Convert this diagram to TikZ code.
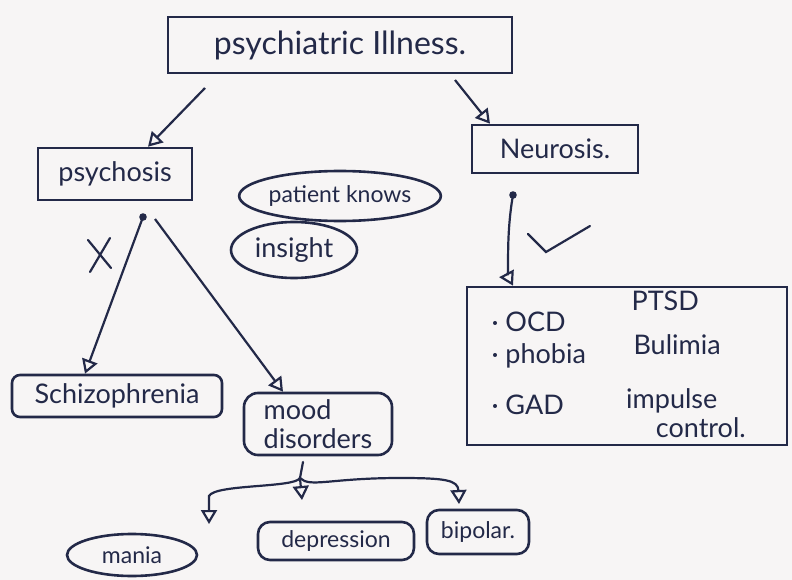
\documentclass[tikz,border=0pt]{standalone}
\usepackage{fontspec}
\setmainfont{Lato}
\usetikzlibrary{arrows.meta,shapes.geometric,calc}
\definecolor{ink}{HTML}{232948}
\definecolor{paper}{HTML}{F7F5F5}
\begin{document}
\begin{tikzpicture}[x=1pt,y=-1pt,
  every node/.style={text=ink},
  box/.style={draw=ink, line width=2.6pt, inner sep=4pt},
  rbox/.style={box, rounded corners=10pt},
  oval/.style={draw=ink, line width=2.6pt, ellipse, inner sep=1pt},
  conn/.style={draw=ink, line width=2.2pt, -{Triangle[open,length=14pt,width=16pt]}},
  plain/.style={draw=ink, line width=2.2pt, line cap=round},
  big/.style={font=\fontsize{32}{34}\selectfont},
  mid/.style={font=\fontsize{27}{29}\selectfont},
  small/.style={font=\fontsize{23}{26}\selectfont}]
\fill[paper] (0,0) rectangle (792,580);
\useasboundingbox (0,0) rectangle (792,580);

% nodes
\node[box, big, minimum width=344, minimum height=56] (title) at (340,45) {psychiatric Illness.};
\node[box, mid, minimum width=154, minimum height=52] (psychosis) at (115,174) {psychosis};
\node[box, mid, minimum width=166, minimum height=48] (neurosis) at (555,149) {Neurosis.};
\node[oval, small, minimum width=172, minimum height=50, inner sep=0pt] (patient) at (340,196) {patient knows};
\node[oval, mid, minimum width=126, minimum height=56, inner sep=0pt] (insight) at (294,250) {insight};
\node[rbox, mid, minimum width=210, minimum height=42, rounded corners=8pt] (schizo) at (117,396) {Schizophrenia};
\node[rbox, mid, minimum width=148, minimum height=62, align=left, rounded corners=14pt, inner sep=2pt] (mood) at (318,424) {mood\\disorders};
\node[box, minimum width=320, minimum height=158] (neurlist) at (627,366) {};
\node[mid, anchor=west] (ocd) at (488,322) {· OCD};
\node[mid, anchor=west] (phobia) at (488,356) {· phobia};
\node[mid, anchor=west] (gad) at (488,405) {· GAD};
\node[mid, anchor=west] (ptsd) at (628,301) {PTSD};
\node[mid, anchor=west] (bulimia) at (630,345) {Bulimia};
\node[mid, anchor=west, align=left, inner sep=0pt] (impulse) at (626,413) {impulse\\\hspace*{1.1em}control.};
\node[oval, small, minimum width=130, minimum height=42, inner sep=0pt] (mania) at (132,555) {mania};
\node[rbox, small, minimum width=156, minimum height=38, rounded corners=12pt, inner sep=2pt] (depression) at (336,541) {depression};
\node[rbox, small, minimum width=102, minimum height=44, rounded corners=12pt, inner sep=2pt] (bipolar) at (478,532) {bipolar.};

% connectors top
\coordinate (t1) at (205,88);
\coordinate (t2) at (455,80);
\draw[conn] (t1) -- (psychosis.north -| 148,0);
\draw[conn] (t2) -- (neurosis.north -| 490,0);

% psychosis branches
\coordinate (p1) at (143,217);
\coordinate (p2) at (155,219);
\fill[ink] (p1) circle (3.8pt);
\draw[conn] (p1) -- (schizo.north -| 85,0);
\draw[conn] (p2) -- (mood.north -| 283,0);
\draw[plain] (88,240) -- (111,268);
\draw[plain] (110,238) -- (90,272);

% neurosis branch
\coordinate (n1) at (513,195);
\fill[ink] (n1) circle (3.8pt);
\draw[conn] (n1) .. controls (505,240) and (510,280) .. (neurlist.north -| 513,0);
\draw[plain] (528,234) -- (546,252) -- (590,226);

% mood disorders branches
\coordinate (m0) at (303,462);
\coordinate (mj) at (300,478);
\draw[plain] (m0) -- (mj);
\draw[conn] (mj) .. controls (295,488) and (215,484) .. (209,496) -- (209,524);
\draw[conn] (mj) -- (302,500);
\draw[conn] (mj) .. controls (310,488) and (330,478) .. (400,478) .. controls (445,478) and (458,480) .. (459,504);
\end{tikzpicture}
\end{document}
